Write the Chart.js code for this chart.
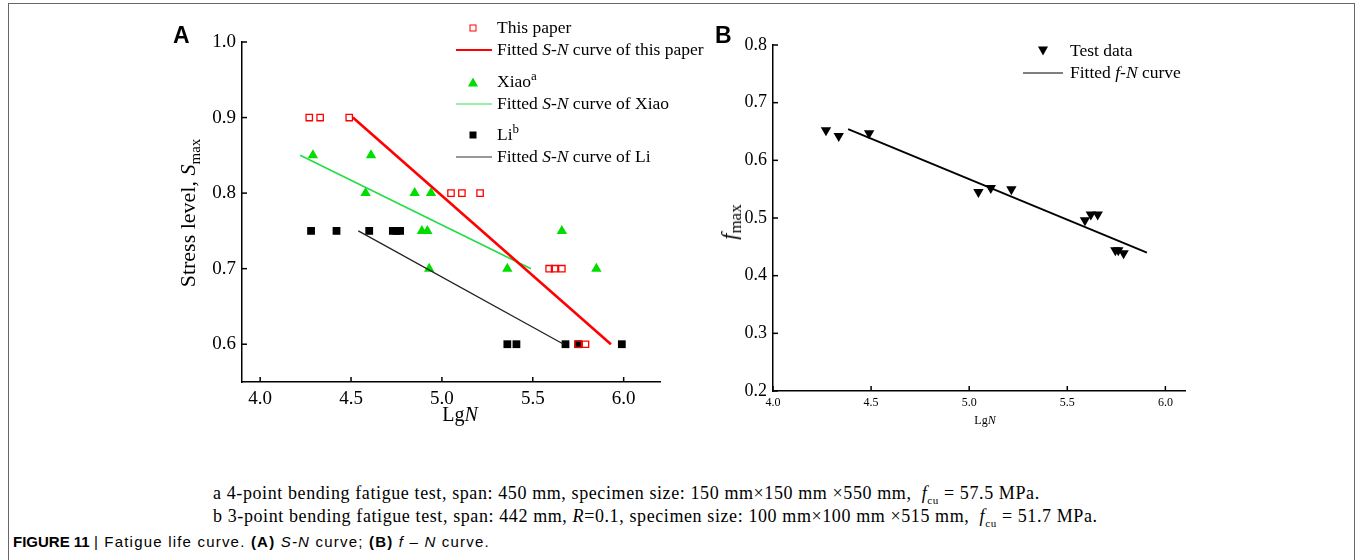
<!DOCTYPE html>
<html lang="en">
<head>
  <meta charset="UTF-8" />
  <title>Fatigue life curve</title>
  <script src="https://cdn.jsdelivr.net/npm/chart.js"></script>
  <style>
    body { margin: 0; background: #fff; width: 1357px; height: 560px; overflow: hidden; position: relative; font-family: "Liberation Serif", serif; color: #000; }
    .marco { position: absolute; left: 8px; top: 3px; width: 1347px; height: 620px; border: 1.5px solid #666; box-sizing: border-box; }
    canvas { position: absolute; }
    .txt { position: absolute; white-space: nowrap; line-height: 1; }
    .centro { transform: translate(-50%, -50%); }
    .izq { transform: translateY(-50%); }
    .letra { font-family: "Liberation Sans", Arial, sans-serif; font-weight: bold; font-size: 23px; }
    .leyenda { font-size: 17.5px; }
    .nota { font-size: 18px; letter-spacing: 0.6px; }
    sub, sup { line-height: 0; }
    .cuadro { position: absolute; width: 5px; height: 5px; border: 1.3px solid #ff0000; transform: translate(-50%, -50%); }
    .cuadro-negro { position: absolute; width: 7px; height: 7px; background: #000; transform: translate(-50%, -50%); }
    .tri { position: absolute; width: 0; height: 0; border-left: 5px solid transparent; border-right: 5px solid transparent; transform: translate(-50%, -50%); }
    .linea { position: absolute; height: 0; }
    .pie { position: absolute; left: 13px; top: 541px; transform: translateY(-50%); font-family: "Liberation Sans", Arial, sans-serif; font-size: 15px; white-space: nowrap; }
    .pie .resto { letter-spacing: 1.2px; }
  </style>
</head>
<body>
<div class="marco"></div>

<canvas id="graficoA" width="540" height="420" style="left:160px; top:20px;"></canvas>
<canvas id="graficoB" width="520" height="420" style="left:700px; top:20px;"></canvas>

<!-- Panel A -->
<div class="txt letra" style="left:173px; top:24px;">A</div>
<div class="txt centro" style="left:188px; top:213px; font-size:22px; transform: translate(-50%,-50%) rotate(-90deg);">Stress level, <i>S</i><sub style="font-size:15px;">max</sub></div>
<div class="txt centro" style="left:460px; top:414px; font-size:20px;">Lg<i>N</i></div>

<div class="cuadro" style="left:473px; top:28px;"></div>
<div class="txt izq leyenda" style="left:497px; top:28px;">This paper</div>
<div class="linea" style="left:456px; top:50px; width:36px; border-top:2.5px solid #ff0000; transform: translateY(-50%);"></div>
<div class="txt izq leyenda" style="left:497px; top:50px;">Fitted <i>S</i>-<i>N</i> curve of this paper</div>
<div class="tri" style="left:473px; top:82px; border-bottom:9px solid #00dd00;"></div>
<div class="txt izq leyenda" style="left:497px; top:82px;">Xiao<sup style="font-size:13px;">a</sup></div>
<div class="linea" style="left:456px; top:104px; width:36px; border-top:1.8px solid #33dd55; transform: translateY(-50%);"></div>
<div class="txt izq leyenda" style="left:497px; top:104px;">Fitted <i>S</i>-<i>N</i> curve of Xiao</div>
<div class="cuadro-negro" style="left:473px; top:135px;"></div>
<div class="txt izq leyenda" style="left:497px; top:135px;">Li<sup style="font-size:13px;">b</sup></div>
<div class="linea" style="left:456px; top:157px; width:36px; border-top:1.3px solid #333; transform: translateY(-50%);"></div>
<div class="txt izq leyenda" style="left:497px; top:157px;">Fitted <i>S</i>-<i>N</i> curve of Li</div>

<!-- Panel B -->
<div class="txt letra" style="left:715px; top:24px;">B</div>
<div class="txt centro" style="left:729px; top:222px; font-size:22px; transform: translate(-50%,-50%) rotate(-90deg);"><i>f</i><sub style="font-size:17px;">max</sub></div>
<div class="txt centro" style="left:985px; top:420px; font-size:12px;">Lg<i>N</i></div>

<div class="tri" style="left:1043px; top:51px; border-top:9px solid #000;"></div>
<div class="txt izq leyenda" style="left:1070px; top:51px;">Test data</div>
<div class="linea" style="left:1023px; top:73px; width:40px; border-top:1.8px solid #000; transform: translateY(-50%);"></div>
<div class="txt izq leyenda" style="left:1070px; top:73px;">Fitted <i>f</i>-<i>N</i> curve</div>

<!-- Notas -->
<div class="txt izq nota" style="left:213px; top:493px;">a 4-point bending fatigue test, span: 450 mm, specimen size: 150 mm×150 mm ×550 mm,&nbsp; <i>f</i><sub style="font-size:11px;">cu</sub> = 57.5 MPa.</div>
<div class="txt izq nota" style="left:213px; top:516px;">b 3-point bending fatigue test, span: 442 mm, <i>R</i>=0.1, specimen size: 100 mm×100 mm ×515 mm,&nbsp; <i>f</i><sub style="font-size:11px;">cu</sub> = 51.7 MPa.</div>

<div class="pie"><b>FIGURE 11</b> <span class="resto">| Fatigue life curve. <b>(A)</b> <i>S-N</i> curve; <b>(B)</b> <i>f</i> – <i>N</i> curve.</span></div>

<script>
// Panel A: datos de ensayo
const paperX = [4.27, 4.33, 4.49, 5.05, 5.11, 5.21, 5.59, 5.62, 5.66, 5.75, 5.79];
const paperY = [0.90, 0.90, 0.90, 0.80, 0.80, 0.80, 0.70, 0.70, 0.70, 0.60, 0.60];
const xiaoX = [4.29, 4.61, 4.58, 4.85, 4.94, 4.89, 4.92, 5.66, 4.93, 5.36, 5.85];
const xiaoY = [0.85, 0.85, 0.80, 0.80, 0.80, 0.75, 0.75, 0.75, 0.70, 0.70, 0.70];
const liX = [4.28, 4.42, 4.60, 4.73, 4.75, 4.77, 5.36, 5.41, 5.68, 5.75, 5.99];
const liY = [0.75, 0.75, 0.75, 0.75, 0.75, 0.75, 0.60, 0.60, 0.60, 0.60, 0.60];
// Panel A: curvas ajustadas (extremos)
const ajustePaperX = [4.51, 5.93];
const ajustePaperY = [0.90, 0.60];
const ajusteXiaoX = [4.22, 5.49];
const ajusteXiaoY = [0.85, 0.70];
const ajusteLiX = [4.54, 5.67];
const ajusteLiY = [0.75, 0.60];
const ticksAx = [4.0, 4.5, 5.0, 5.5, 6.0];
const ticksAy = [0.6, 0.7, 0.8, 0.9, 1.0];

// Panel B
const ensayoX = [4.27, 4.335, 4.49, 5.047, 5.11, 5.215, 5.59, 5.62, 5.655, 5.745, 5.76, 5.787];
const ensayoY = [0.652, 0.642, 0.647, 0.545, 0.552, 0.550, 0.496, 0.506, 0.506, 0.444, 0.444, 0.439];
const ajusteBX = [4.383, 5.906];
const ajusteBY = [0.654, 0.440];
const ticksBx = [4.0, 4.5, 5.0, 5.5, 6.0];
const ticksBy = [0.2, 0.3, 0.4, 0.5, 0.6, 0.7, 0.8];

const puntos = (xs, ys) => xs.map((x, i) => ({ x: x, y: ys[i] }));

// marcas de eje hacia dentro
const marcasInternas = {
  id: 'marcasInternas',
  afterDraw(chart) {
    const ctx = chart.ctx;
    const { x, y } = chart.scales;
    ctx.save();
    ctx.strokeStyle = '#000';
    ctx.lineWidth = 1.5;
    x.ticks.forEach(t => {
      const px = x.getPixelForValue(t.value);
      ctx.beginPath(); ctx.moveTo(px, x.top); ctx.lineTo(px, x.top - 5); ctx.stroke();
    });
    y.ticks.forEach(t => {
      const py = y.getPixelForValue(t.value);
      ctx.beginPath(); ctx.moveTo(y.right, py); ctx.lineTo(y.right + 5, py); ctx.stroke();
    });
    ctx.restore();
  }
};

function ejes(o) {
  return {
    x: {
      type: 'linear', min: o.xmin, max: o.xmax,
      afterBuildTicks: s => { s.ticks = o.tx.map(v => ({ value: v })); },
      afterFit: s => { s.height = o.altoX; },
      ticks: { color: '#000', font: { family: 'Liberation Serif', size: o.fx }, padding: o.padX, callback: v => Number(v).toFixed(1) },
      grid: { drawOnChartArea: false, drawTicks: false },
      border: { color: '#000', width: 1.5 }
    },
    y: {
      type: 'linear', min: o.ymin, max: o.ymax,
      afterBuildTicks: s => { s.ticks = o.ty.map(v => ({ value: v })); },
      afterFit: s => { s.width = o.anchoY; },
      ticks: { color: '#000', font: { family: 'Liberation Serif', size: o.fy }, padding: 6, callback: v => Number(v).toFixed(1) },
      grid: { drawOnChartArea: false, drawTicks: false },
      border: { color: '#000', width: 1.5 }
    }
  };
}

new Chart(document.getElementById('graficoA'), {
  type: 'scatter',
  data: {
    datasets: [
      { label: 'Fitted S-N curve of this paper', data: puntos(ajustePaperX, ajustePaperY), showLine: true, borderColor: '#ff0000', borderWidth: 2.6, pointRadius: 0 },
      { label: 'Fitted S-N curve of Xiao', data: puntos(ajusteXiaoX, ajusteXiaoY), showLine: true, borderColor: '#22dd44', borderWidth: 1.6, pointRadius: 0 },
      { label: 'Fitted S-N curve of Li', data: puntos(ajusteLiX, ajusteLiY), showLine: true, borderColor: '#222', borderWidth: 1.3, pointRadius: 0 },
      { label: 'This paper', data: puntos(paperX, paperY), pointStyle: 'rect', pointRadius: 4.5, borderColor: '#ff0000', borderWidth: 1.3, backgroundColor: 'rgba(255,255,255,0)' },
      { label: 'Xiao', data: puntos(xiaoX, xiaoY), pointStyle: 'triangle', pointRadius: 6, borderWidth: 0, backgroundColor: '#00dd00' },
      { label: 'Li', data: puntos(liX, liY), pointStyle: 'rect', pointRadius: 5.5, borderWidth: 0, backgroundColor: '#000' }
    ]
  },
  options: {
    responsive: false,
    animation: false,
    layout: { padding: { top: 22, right: 40, left: 0, bottom: 0 } },
    plugins: { legend: { display: false }, tooltip: { enabled: false } },
    scales: ejes({ xmin: 3.9, xmax: 6.2, ymin: 0.55, ymax: 1.0, tx: ticksAx, ty: ticksAy, altoX: 58, anchoY: 82, fx: 19, fy: 19, padX: 6 })
  },
  plugins: [marcasInternas]
});

new Chart(document.getElementById('graficoB'), {
  type: 'scatter',
  data: {
    datasets: [
      { label: 'Fitted f-N curve', data: puntos(ajusteBX, ajusteBY), showLine: true, borderColor: '#000', borderWidth: 1.8, pointRadius: 0 },
      { label: 'Test data', data: puntos(ensayoX, ensayoY), pointStyle: 'triangle', rotation: 180, pointRadius: 6, borderWidth: 0, backgroundColor: '#000' }
    ]
  },
  options: {
    responsive: false,
    animation: false,
    layout: { padding: { top: 25, right: 35, left: 0, bottom: 0 } },
    plugins: { legend: { display: false }, tooltip: { enabled: false } },
    scales: ejes({ xmin: 4.0, xmax: 6.1, ymin: 0.2, ymax: 0.8, tx: ticksBx, ty: ticksBy, altoX: 49, anchoY: 73, fx: 12, fy: 18, padX: 5 })
  },
  plugins: [marcasInternas]
});
</script>
</body>
</html>
